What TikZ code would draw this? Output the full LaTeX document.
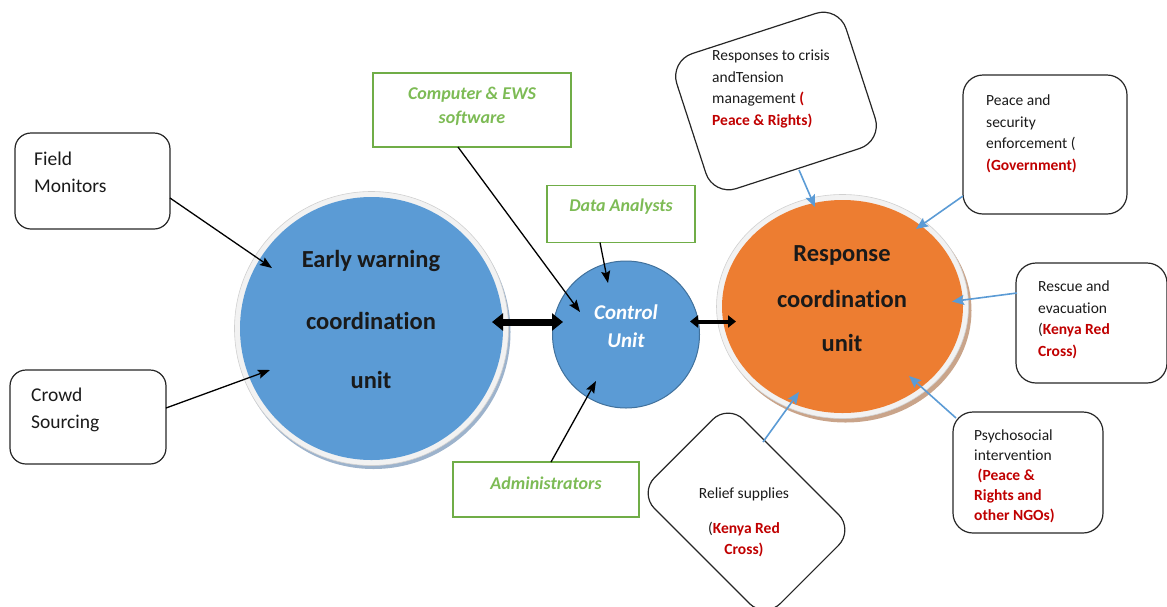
\documentclass[tikz,border=0pt]{standalone}
\usepackage{fontspec}
\setmainfont{Carlito}[Ligatures={NoCommon}]
\usetikzlibrary{arrows.meta,shapes.geometric}
\definecolor{ewblue}{HTML}{5B9BD5}
\definecolor{cuedge}{HTML}{41719C}
\definecolor{rorange}{HTML}{ED7D31}
\definecolor{gline}{HTML}{70AD47}
\definecolor{gtext}{HTML}{7DBB55}
\definecolor{rtext}{HTML}{C00000}
\definecolor{ablue}{HTML}{5B9BD5}
\definecolor{ringfill}{HTML}{F2F2F2}
\definecolor{ringedge}{HTML}{D0D0D0}
\definecolor{bshadow}{HTML}{9DB3CC}
\definecolor{oshadow}{HTML}{C9A48A}
\definecolor{txt}{HTML}{1A1A1A}
\newcommand{\rd}[1]{\textcolor{rtext}{\bfseries #1}}
\begin{document}
\begin{tikzpicture}[x=1pt,y=-1pt,
  rbox/.style={draw=black!85, line width=1.2pt, rounded corners=16pt, inner sep=0pt},
  gbox/.style={draw=gline, line width=1.5pt, inner sep=0pt},
  big/.style={font={\fontsize{24.5}{30}\selectfont\bfseries}, text=txt},
  lbl/.style={font={\fontsize{19.5}{27}\selectfont}, text=txt, align=left, anchor=west, inner sep=0pt},
  slbl/.style={font={\fontsize{15.5}{21.5}\selectfont}, text=txt, align=left, anchor=west, inner sep=0pt},
  glbl/.style={font={\fontsize{18}{24}\selectfont\bfseries\itshape}, text=gtext, align=center, inner sep=0pt},
  arr/.style={-{Stealth[length=12pt,width=9pt,inset=2pt]}, line width=1.3pt, black},
  barr/.style={-{Stealth[length=12pt,width=10pt,inset=2pt]}, line width=1.6pt, ablue},
]
\useasboundingbox (0,0) rectangle (1167,606);

% ---- big circles ----
\fill[bshadow] (373.5,332) circle (137);
\filldraw[fill=ringfill, draw=ringedge, line width=0.6pt] (371.5,328.5) circle (137);
\node[circle, fill=ewblue, minimum size=263pt, inner sep=0pt] (ew) at (371.5,328.5) {};
\node[big, align=center] (ewt1) at (371,261) {Early warning};
\node[big, align=center] (ewt2) at (371,321) {coordination};
\node[big, align=center] (ewt3) at (371,380) {unit};

\fill[oshadow] (845.5,310.5) ellipse (126 and 112);
\filldraw[fill=ringfill, draw=ringedge, line width=0.6pt] (842.5,306.5) ellipse (126 and 112);
\node[ellipse, fill=rorange, minimum width=241pt, minimum height=213pt, inner sep=0pt] (rc) at (842.5,306.5) {};
\node[big] (rct1) at (842,255) {Response};
\node[big] (rct2) at (842,299) {coordination};
\node[big] (rct3) at (842,343) {unit};

\node[circle, fill=ewblue, draw=cuedge, line width=1pt, minimum size=147pt, inner sep=0pt] (cu) at (626,334.5) {};
\node[font={\fontsize{21}{28}\selectfont\bfseries\itshape}, text=white, align=center, inner sep=0pt] (cut) at (626,326) {Control\\Unit};

% ---- left boxes ----
\node[rbox, minimum width=155pt, minimum height=96pt] (fm) at (92.5,181) {};
\node[lbl] (fmt) at (34,172.5) {Field\\Monitors};
\node[rbox, minimum width=156pt, minimum height=94pt] (cs) at (88,417) {};
\node[lbl] (cst) at (31,409.5) {Crowd\\Sourcing};

% ---- green boxes ----
\node[gbox, minimum width=198pt, minimum height=74pt] (ce) at (472,110) {};
\node[glbl] (cet) at (472,106) {Computer \& EWS\\software};
\node[gbox, minimum width=148pt, minimum height=57pt] (da) at (621,214) {};
\node[glbl] (dat) at (621,206.5) {Data Analysts};
\node[gbox, minimum width=186pt, minimum height=55pt] (ad) at (546,489.5) {};
\node[glbl] (adt) at (546,483) {Administrators};

% ---- right boxes ----
\node[rbox, rounded corners=24pt, minimum width=178pt, minimum height=142pt, rotate=18] (rt) at (776,101) {};
\node[slbl] (rtt) at (712,89) {Responses to crisis\\andTension\\management \rd{(}\\\rd{Peace \& Rights)}};
\node[rbox, rounded corners=20pt, minimum width=164pt, minimum height=139pt] (ps) at (1045,144.5) {};
\node[slbl] (pst) at (986,134) {Peace and\\security\\enforcement (\\\rd{(Government)}};
\node[rbox, rounded corners=20pt, minimum width=151pt, minimum height=120pt] (re) at (1091.5,323) {};
\node[slbl] (ret) at (1038,320) {Rescue and\\evacuation\\(\rd{Kenya Red}\\\rd{Cross)}};
\node[rbox, rounded corners=20pt, minimum width=150pt, minimum height=121pt] (pi) at (1028,472.5) {};
\node[slbl, font={\fontsize{15.5}{20}\selectfont}] (pit) at (974,476.5) {Psychosocial\\intervention\\\rd{\ (Peace \&}\\\rd{Rights and}\\\rd{other NGOs)}};
\node[rbox, rounded corners=22pt, minimum width=178pt, minimum height=126pt, rotate=-45] (rs) at (746.5,511.5) {};
\node[slbl, align=center, anchor=center] (rst) at (744,522.5) {Relief supplies\\[13.5pt](\rd{Kenya Red}\\\rd{Cross)}};

% ---- arrow end coordinates ----
\coordinate (ewin1) at (272,268);
\coordinate (ewin2) at (270,370);
\coordinate (fmout) at (170,198);
\coordinate (csout) at (166,408);
\coordinate (cein) at (580,312);
\coordinate (cebot) at (458,147);
\coordinate (dain) at (608,283);
\coordinate (dabot) at (600,242.5);
\coordinate (adin) at (596,381);
\coordinate (adtop) at (551,462);
\coordinate (ewr) at (492,322);
\coordinate (cul) at (563,322);
\coordinate (cur) at (690,321.5);
\coordinate (rcl) at (736,321.5);
\coordinate (rtout) at (799,170);
\coordinate (rtin) at (815,207);
\coordinate (psout) at (963,196);
\coordinate (psin) at (916,229);
\coordinate (reout) at (1017,293);
\coordinate (rein) at (952,301.5);
\coordinate (piout) at (956,418);
\coordinate (piin) at (909,376);
\coordinate (rsout) at (763,442);
\coordinate (rsin) at (799,392);

% ---- connectors ----
\draw[arr] (fmout) -- (ewin1);
\draw[arr] (csout) -- (ewin2);
\draw[arr] (cebot) -- (cein);
\draw[arr] (dabot) -- (dain);
\draw[arr] (adtop) -- (adin);
\draw[{Triangle[length=11pt,width=17pt]}-{Triangle[length=11pt,width=17pt]}, line width=7pt] (ewr) -- (cul);
\draw[{Triangle[length=8pt,width=12pt]}-{Triangle[length=8pt,width=12pt]}, line width=4pt] (cur) -- (rcl);
\draw[barr] (rtout) -- (rtin);
\draw[barr] (psout) -- (psin);
\draw[barr] (reout) -- (rein);
\draw[barr] (piout) -- (piin);
\draw[barr] (rsout) -- (rsin);
\end{tikzpicture}
\end{document}
